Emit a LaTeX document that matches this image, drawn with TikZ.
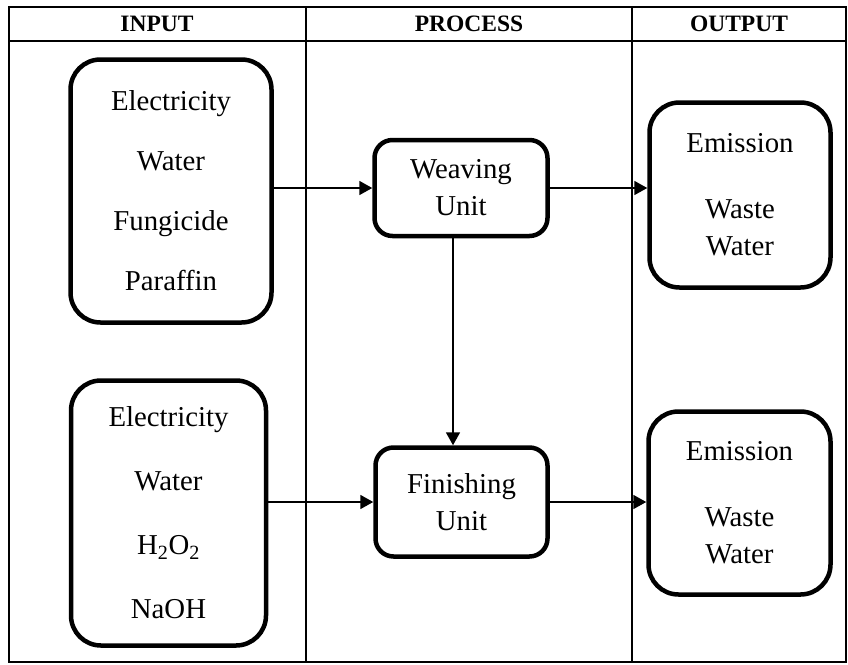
\documentclass[tikz,border=0pt]{standalone}
\usepackage{fontspec}
\setmainfont{Liberation Serif}
\usetikzlibrary{arrows.meta,positioning}
\begin{document}
\begin{tikzpicture}[x=1pt,y=-1pt,
  grid/.style={line width=1.8pt},
  head/.style={font=\fontsize{23.5}{28}\selectfont\bfseries, inner sep=0pt},
  rbox/.style={draw, line width=4.5pt, rounded corners=30pt, align=center,
    font=\fontsize{28.8}{37}\selectfont, inner sep=0pt},
  ubox/.style={draw, line width=4.5pt, rounded corners=18pt, align=center,
    font=\fontsize{28.8}{37}\selectfont, inner sep=0pt},
  arr/.style={line width=1.8pt, -{Triangle[length=13pt,width=14pt]}}]
\useasboundingbox (0,0) rectangle (848,664);
% table
\draw[grid] (9,7) rectangle (846,662);
\coordinate (hl) at (9,41);
\coordinate (hr) at (846,41);
\draw[grid] (hl) -- (hr);
\coordinate (c1t) at (306,7);
\coordinate (c1b) at (306,662);
\coordinate (c2t) at (632,7);
\coordinate (c2b) at (632,662);
\draw[grid] (c1t) -- (c1b);
\draw[grid] (c2t) -- (c2b);
\node[head] (hin) at (157,24) {INPUT};
\node[head] (hproc) at (469,24) {PROCESS};
\node[head] (hout) at (739,24) {OUTPUT};
% boxes
\node[rbox, minimum width=201pt, minimum height=263pt] (in1) at (171,191)
  {Electricity\\[23pt]Water\\[23pt]Fungicide\\[23pt]Paraffin};
\node[rbox, minimum width=195pt, minimum height=265pt] (in2) at (168.5,513)
  {Electricity\\[27pt]Water\\[27pt]H\textsubscript{2}O\textsubscript{2}\\[27pt]NaOH};
\node[ubox, minimum width=173pt, minimum height=96pt] (weav) at (461,188)
  {Weaving\\Unit};
\node[ubox, minimum width=172pt, minimum height=109pt] (fin) at (461.5,502)
  {Finishing\\Unit};
\node[rbox, minimum width=181pt, minimum height=185pt] (out1) at (740,195)
  {Emission\\[29pt]Waste\\Water};
\node[rbox, minimum width=182pt, minimum height=183pt] (out2) at (739.5,503)
  {Emission\\[29pt]Waste\\Water};
% connectors
\draw[arr] (in1.east |- weav.west) -- (weav.west);
\draw[arr] (weav.east) -- (weav.east -| out1.west);
\draw[arr] ([xshift=-8pt]weav.south) -- ([xshift=-8pt]weav.south |- fin.north);
\draw[arr] (in2.east |- fin.west) -- (fin.west);
\draw[arr] (fin.east) -- (fin.east -| out2.west);
\end{tikzpicture}
\end{document}
